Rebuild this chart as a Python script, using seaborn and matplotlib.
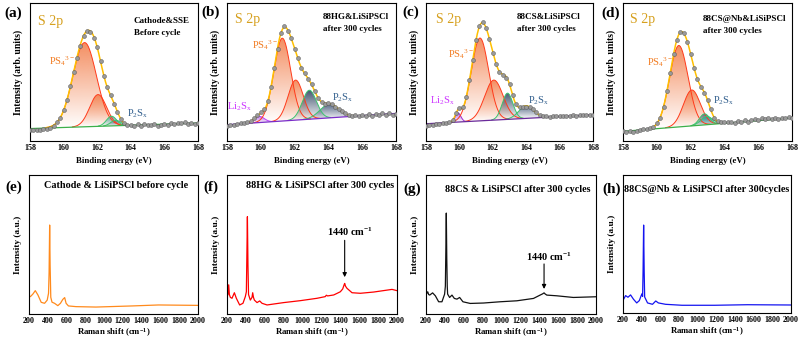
import numpy as np
import matplotlib
matplotlib.use("Agg")
import matplotlib.pyplot as plt
from matplotlib.path import Path
from matplotlib.patches import PathPatch
from matplotlib.colors import to_rgb
import seaborn as sns

sns.set_theme(style="white")
plt.rcParams["font.family"] = ["Liberation Serif", "DejaVu Serif"]
plt.rcParams["mathtext.fontset"] = "custom"
plt.rcParams["mathtext.rm"] = "Liberation Serif"
plt.rcParams["mathtext.it"] = "Liberation Serif:italic"
plt.rcParams["mathtext.bf"] = "Liberation Serif:bold"

# ---------------- XPS data (S 2p) ----------------
xps_energy = np.round(np.arange(158.0, 168.001, 0.2), 1)
xps_ticks = [158, 160, 162, 164, 166, 168]

a_dots = [.078, .080, .083, .079, .084, .088, .095, .110, .135, .170, .225, .300, .395, .50, .60, .69, .76,
          .80, .79, .75, .68, .58, .47, .39, .33, .27, .21, .16, .13, .115, .118, .110, .120, .112, .122,
          .115, .113, .121, .110, .117, .124, .118, .128, .120, .132, .128, .135, .124, .130, .126, .133]
b_dots = [.112, .115, .118, .12, .127, .13, .135, .145, .165, .19, .21, .235, .29, .39, .53, .67, .78, .83,
          .80, .75, .67, .60, .53, .49, .45, .41, .36, .31, .28, .27, .275, .265, .25, .235, .215, .20, .19,
          .182, .186, .18, .19, .183, .195, .184, .198, .186, .20, .188, .205, .192, .198]
c_dots = [.112, .115, .118, .12, .122, .128, .13, .138, .155, .20, .24, .25, .32, .44, .59, .73, .83, .86,
          .82, .74, .64, .56, .50, .48, .46, .41, .33, .27, .245, .25, .25, .245, .23, .21, .19, .18, .178,
          .176, .18, .178, .182, .18, .184, .182, .186, .184, .188, .185, .19, .188, .19]
d_dots = [.075, .062, .07, .066, .072, .078, .085, .088, .095, .105, .13, .17, .245, .36, .49, .63, .73,
          .79, .78, .72, .63, .53, .45, .39, .35, .30, .23, .17, .145, .135, .14, .135, .14, .132, .145,
          .14, .15, .138, .155, .16, .15, .165, .16, .17, .158, .168, .162, .17, .165, .175, .17]

# fitted components: centres (eV), heights, widths (sigma), background (start, end)
a_centers = [161.25, 162.05, 162.85, 163.10]
a_heights = [0.61, 0.23, 0.07, 0.04]
a_widths = [0.70, 0.50, 0.30, 0.30]
a_bg = [0.090, 0.130]

b_centers = [159.90, 161.27, 162.06, 162.87, 164.05]
b_heights = [0.045, 0.60, 0.29, 0.21, 0.10]
b_widths = [0.30, 0.50, 0.45, 0.42, 0.55]
b_bg = [0.118, 0.200]

c_centers = [159.92, 161.23, 162.06, 162.88, 164.00]
c_heights = [0.065, 0.60, 0.29, 0.19, 0.09]
c_widths = [0.17, 0.52, 0.55, 0.32, 0.45]
c_bg = [0.125, 0.190]

d_centers = [161.30, 162.07, 162.82, 162.95]
d_heights = [0.59, 0.26, 0.08, 0.06]
d_widths = [0.55, 0.50, 0.30, 0.35]
d_bg = [0.070, 0.167]

# ---------------- Raman data ----------------
raman_ticks = list(range(200, 2001, 200))
e_shift = [200, 215, 242, 267, 295, 330, 366, 394, 408, 414, 420, 425, 432, 445, 472, 507, 535, 560, 580,
           595, 620, 700, 913, 1300, 1580, 2000]
e_int = [.13, .125, .144, .168, .137, .084, .077, .10, .149, .30, .64, .35, .12, .085, .077, .06, .077, .105,
         .118, .077, .058, .053, .05, .058, .065, .062]
f_shift = [200, 210, 218, 225, 235, 253, 278, 299, 334, 369, 394, 405, 410, 416, 422, 428, 447, 465, 472,
           480, 490, 518, 546, 571, 624, 800, 977, 1153, 1240, 1252, 1265, 1330, 1400, 1425, 1440, 1446,
           1455, 1470, 1524, 1612, 1753, 1947, 2000]
f_int = [.125, .14, .21, .14, .12, .113, .153, .113, .065, .077, .125, .16, .40, .70, .35, .14, .10, .12,
         .153, .12, .10, .082, .094, .077, .065, .082, .096, .113, .125, .135, .13, .137, .16, .18, .21,
         .22, .20, .185, .153, .149, .158, .177, .168]
g_shift = [200, 210, 218, 228, 239, 270, 299, 334, 369, 397, 405, 410, 415, 420, 425, 429, 450, 475, 500,
           528, 556, 591, 668, 809, 985, 1162, 1338, 1408, 1435, 1450, 1460, 1479, 1584, 1760, 2000]
g_int = [.143, .15, .16, .14, .136, .152, .131, .088, .088, .143, .2, .45, .726, .4, .2, .143, .119, .136,
         .112, .107, .119, .088, .076, .079, .088, .095, .112, .136, .145, .152, .145, .136, .131, .119, .124]
h_shift = [200, 228, 253, 281, 312, 347, 375, 396, 405, 410, 415, 421, 427, 432, 463, 516, 551, 579, 656,
           832, 1182, 1533, 2000]
h_int = [.092, .126, .114, .131, .10, .073, .09, .128, .14, .12, .3, .637, .3, .116, .073, .063, .087, .073,
         .063, .056, .056, .06, .058]

# ---------------- figure ----------------
W, H = 800, 339
fig = plt.figure(figsize=(8, 3.39), dpi=100)


def rect(l, r, t, b):
    return [l / W, 1 - b / H, (r - l) / W, (b - t) / H]


def ftext(px, py, s, **kw):
    kw.setdefault("va", "center")
    kw.setdefault("ha", "center")
    fig.text(px / W, 1 - py / H, s, **kw)


def grad_fill(ax, xs, lo, hi, color, z):
    verts = np.concatenate([np.column_stack([xs, hi]), np.column_stack([xs[::-1], lo[::-1]])])
    patch = PathPatch(Path(verts), facecolor="none", edgecolor="none", transform=ax.transData)
    ax.add_patch(patch)
    n = 200
    img = np.zeros((n, 2, 4))
    img[..., :3] = to_rgb(color)
    img[..., 3] = np.linspace(0.0, 0.85, n)[:, None]
    im = ax.imshow(img, extent=[xs.min(), xs.max(), lo.min(), hi.max()], origin="lower",
                   aspect="auto", zorder=z, interpolation="bilinear")
    im.set_clip_path(patch)


def style_axes(ax):
    for sp in ax.spines.values():
        sp.set_color("black")
        sp.set_linewidth(0.8)
        sp.set_visible(True)
    ax.set_yticks([])
    ax.tick_params(axis="x", direction="in", length=2, width=0.6, pad=2.5, labelsize=5.8, colors="black")


PEACH = ("#F27A45", "#FF3A1A")
xps_panels = [
    (a_dots, a_bg, a_centers, a_heights, a_widths,
     [PEACH, PEACH, ("#1FA3A0", "#3CC46E"), ("#4F6A92", "#3CC46E")], "#3CB04A"),
    (b_dots, b_bg, b_centers, b_heights, b_widths,
     [("#A640E6", "#C040FF"), PEACH, PEACH, ("#223858", "#3CC46E"), ("#3A4F72", "#3CC46E")], "#7A2CC8"),
    (c_dots, c_bg, c_centers, c_heights, c_widths,
     [("#A640E6", "#9A30D0"), PEACH, PEACH, ("#223858", "#3CC46E"), ("#3A4F72", "#3CC46E")], "#6A2A9A"),
    (d_dots, d_bg, d_centers, d_heights, d_widths,
     [PEACH, PEACH, ("#3A4F72", "#3CC46E"), ("#1FA3A0", "#3CC46E")], "#3CB04A"),
]
xps_rects = [rect(30, 198, 3, 141), rect(227, 396, 3, 141), rect(426, 593, 3, 141), rect(623, 792, 3, 141)]

xf = np.linspace(158, 168, 801)
for (dots, bg, cen, hts, wds, styles, bgcol), r in zip(xps_panels, xps_rects):
    ax = fig.add_axes(r)
    base = bg[0] + (bg[1] - bg[0]) * (xf - 158) / 10
    total = base.copy()
    for i, (c, h, w) in enumerate(zip(cen, hts, wds)):
        comp = h * np.exp(-(xf - c) ** 2 / (2 * w * w))
        total = total + comp
        m = comp > 0.002
        xs, lo, hi = xf[m], base[m], base[m] + comp[m]
        grad_fill(ax, xs, lo, hi, styles[i][0], 1 + 0.1 * i)
        sns.lineplot(x=xs, y=hi, ax=ax, color=styles[i][1], lw=0.7, zorder=2)
    sns.lineplot(x=xf, y=base, ax=ax, color=bgcol, lw=0.9, zorder=2.5)
    m = (total - base) > 0.003
    sns.lineplot(x=xf[m], y=total[m], ax=ax, color="#FFC000", lw=1.1, zorder=3)
    sns.scatterplot(x=xps_energy, y=dots, ax=ax, s=8, color="#9A9A9A", edgecolor="#555555",
                    linewidth=0.35, zorder=4)
    ax.set_xlim(158, 168)
    ax.set_ylim(0, 1)
    style_axes(ax)
    ax.set_xticks(xps_ticks)
    ax.set_xticklabels([str(t) for t in xps_ticks], fontweight="bold", fontsize=5.8)
    ax.set_xlabel("Binding energy (eV)", fontsize=6.3, fontweight="bold", labelpad=3, color="black")
    ax.set_ylabel("Intensity (arb. units)", fontsize=6.9, fontweight="bold", labelpad=5, color="black")

raman_panels = [(e_shift, e_int, "#FF8A1C"), (f_shift, f_int, "#FF0000"),
                (g_shift, g_int, "#111111"), (h_shift, h_int, "#1414F0")]
raman_rects = [rect(29, 198, 175, 314), rect(227, 397, 175, 314), rect(426, 596, 175, 314),
               rect(623, 791, 175, 313)]
raman_axes = []
for (xs, ys, col), r in zip(raman_panels, raman_rects):
    ax = fig.add_axes(r)
    sns.lineplot(x=xs, y=ys, ax=ax, color=col, lw=0.9)
    ax.set_xlim(200, 2000)
    ax.set_ylim(0, 1)
    style_axes(ax)
    ax.set_xticks(raman_ticks)
    ax.set_xticklabels([str(t) for t in raman_ticks], fontweight="bold", fontsize=5.8)
    ax.set_xlabel(r"Raman shift (cm$^{\mathbf{-1}}$)", fontsize=6.3, fontweight="bold", labelpad=0.5,
                  color="black")
    ax.set_ylabel("Intensity (a.u.)", fontsize=6.7, fontweight="bold", labelpad=5, color="black")
    raman_axes.append(ax)

# arrows for 1440 cm-1
raman_axes[1].annotate("", xy=(1446, 0.245), xytext=(1446, 0.55),
                       arrowprops=dict(arrowstyle="-|>", color="black", lw=0.8, mutation_scale=6))
raman_axes[2].annotate("", xy=(1450, 0.16), xytext=(1450, 0.38),
                       arrowprops=dict(arrowstyle="-|>", color="black", lw=0.8, mutation_scale=6))

# ---------------- texts ----------------
for lab, (px, py) in zip("abcdefgh", [(13, 13), (211, 12), (411, 12), (611, 13),
                                      (14, 187), (211, 187), (412, 189), (612, 189)]):
    ftext(px, py, f"({lab})", fontsize=11, fontweight="bold", color="black")

GOLD = "#D6A01E"
for px, py in [(51, 21), (248, 19), (449, 20), (643, 20)]:
    ftext(px, py, "S 2p", fontsize=10, color=GOLD)

notes = [(134, 21, 33, "Cathode&SSE", "Before cycle"),
         (323, 17, 29, "88HG&LiSiPSCl", "after 300 cycles"),
         (517, 17, 29, "88CS&LiSiPSCl", "after 300 cycles"),
         (703, 19, 31, "88CS@Nb&LiSiPSCl", "after 300 cycles")]
for px, y1, y2, l1, l2 in notes:
    ftext(px, y1, l1, ha="left", fontsize=6.5, fontweight="bold", color="black")
    ftext(px, y2, l2, ha="left", fontsize=6.5, fontweight="bold", color="black")

ORANGE = "#F27A1E"
for px, py in [(62, 61), (265, 45), (461, 54), (660, 62)]:
    ftext(px, py, r"PS$_{\rm 4}$$^{\rm 3-}$", fontsize=7.5, color=ORANGE)

BLUE = "#2F5D8C"
for px, py in [(138, 114), (343, 98), (539, 101), (724, 101)]:
    ftext(px, py, r"P$_{\rm 2}$S$_{\rm x}$", fontsize=7.5, color=BLUE)

for px, py in [(239, 107), (442, 101)]:
    ftext(px, py, r"Li$_{\rm 2}$S$_{\rm x}$", fontsize=7.5, color="#CC33FF")

titles = [(116, 186, "Cathode & LiSiPSCl before cycle"),
          (320, 186, "88HG & LiSiPSCl after 300 cycles"),
          (518, 189, "88CS & LiSiPSCl after 300 cycles"),
          (707, 189, "88CS@Nb & LiSiPSCl after 300cycles")]
for px, py, s in titles:
    ftext(px, py, s, fontsize=7.3, fontweight="bold", color="black")

ftext(350, 232, r"1440 cm$^{\mathbf{-1}}$", fontsize=7.5, fontweight="bold", color="black")
ftext(549, 257, r"1440 cm$^{\mathbf{-1}}$", fontsize=7.5, fontweight="bold", color="black")

fig.savefig("out.png", dpi=100, facecolor="white")
